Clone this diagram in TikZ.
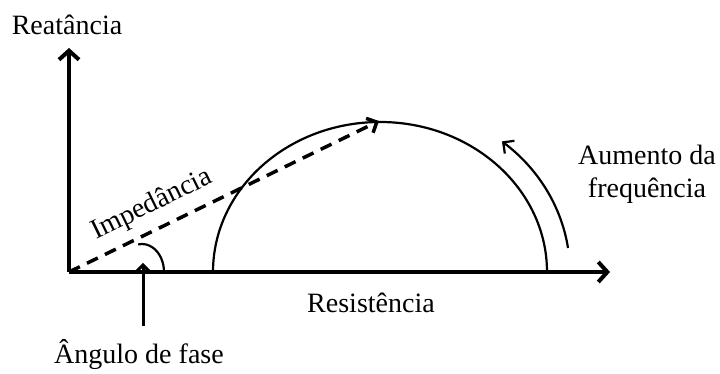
\documentclass[tikz,border=0pt]{standalone}
\usepackage{fontspec}
\setmainfont{Liberation Serif}
\usetikzlibrary{arrows.meta}
\begin{document}
\begin{tikzpicture}[x=1pt,y=1pt,
  lbl/.style={inner sep=0pt,font=\fontsize{28}{33}\selectfont},
  axis/.style={line width=4pt,-{Straight Barb[length=9pt,width=20pt]}},
  curve/.style={line width=2.2pt},
  imp/.style={line width=3.5pt,dash pattern=on 12pt off 8pt,-{Straight Barb[length=8pt,width=16pt]}}]
\useasboundingbox (0,0) rectangle (720,374);
\coordinate (O) at (69,102);
\coordinate (Ytip) at (69,326);
\coordinate (Xtip) at (610,102);
\coordinate (Zend) at (379,253);
\coordinate (Cl) at (213,102);
\coordinate (Ps) at (143,48);
\coordinate (Pe) at (143,111);
\coordinate (Fs) at (568,126);
\coordinate (As) at (164,102);
\node[lbl] (reat) at (67,349) {Reatância};
\node[lbl] (res) at (371,71) {Resistência};
\node[lbl] (ang) at (139,19) {Ângulo de fase};
\node[lbl,align=center] (aum) at (647,200) {Aumento da\\frequência};
\node[lbl,rotate=26] (impl) at (152,169) {Impedância};
\draw[axis] (O) -- (Ytip);
\draw[axis] (O) -- (Xtip);
\draw[curve] (Cl) arc[start angle=180,end angle=0,x radius=167,y radius=150];
\draw[imp] (O) -- (Zend);
\draw[curve] (As) arc[start angle=0,end angle=100,x radius=22,y radius=28];
\draw[line width=3pt,-{Straight Barb[length=7pt,width=14pt]}] (Ps) -- (Pe);
\draw[curve,-{Straight Barb[length=8pt,width=16pt]}] (Fs) arc[start angle=8,end angle=50,x radius=190,y radius=170];
\end{tikzpicture}
\end{document}
